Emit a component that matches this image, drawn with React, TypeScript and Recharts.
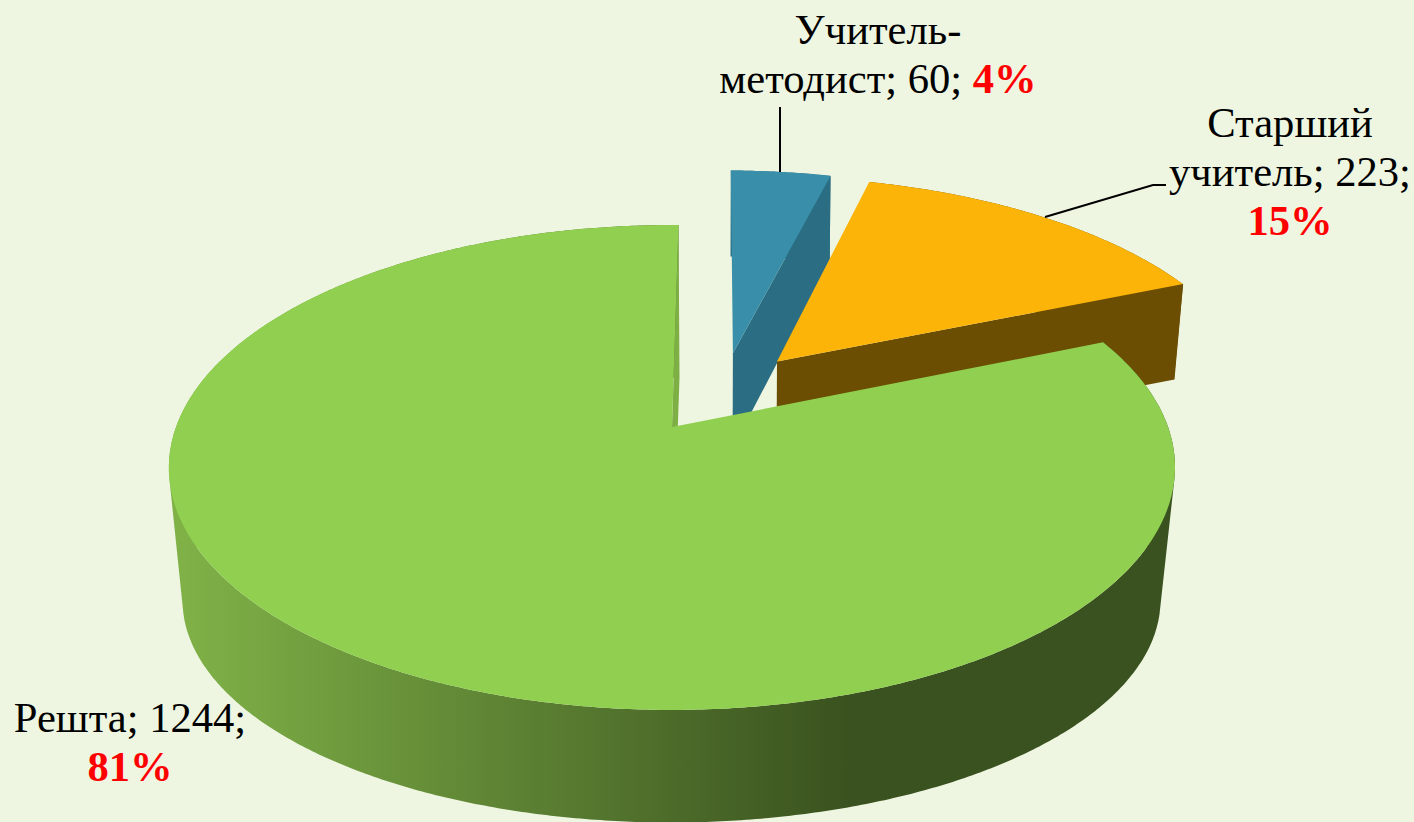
import { Pie, PieChart } from 'recharts';

const categories = ['Учитель-методист', 'Старший учитель', 'Решта'];
const counts = [60, 223, 1244];
const nameLines = [['Учитель-', 'методист'], ['Старший', 'учитель'], ['Решта']];

const pieData = categories.map((name, i) => ({ name, value: counts[i] }));

// perspective of the disc: how much farther points shrink, and how flat it is
const PERSPECTIVE = 0.167;
const FLATTEN = 0.4752;

// offset = explosion of a slice in disc units; floor = where its lower plane lands on screen
const sliceLook: Record<string, any> = {
  'Учитель-методист': {
    top: '#398FA9',
    side: '#2B6E83',
    wall: '#2B6E83',
    offset: [0.121, 0.33],
    floor: { sx: 0.995, sy: 1.05, dy: 98.7, fx: 0, wallFx: 0 },
  },
  'Старший учитель': {
    top: '#FDB408',
    side: '#6C4E03',
    wall: '#6C4E03',
    offset: [0.2135, 0.292],
    floor: { sx: 0.98, sy: 0.99, dy: 94, fx: 1, wallFx: 1.5 },
  },
  Решта: {
    top: '#90CF50',
    side: 'url(#greenSide)',
    wall: '#7DAF45',
    offset: [-0.008, 0],
    floor: { sx: 0.972, sy: 0.917, dy: 136, fx: -0.5, wallFx: 1 },
  },
};

const labelLook = [
  { x: 878, y: 44, lineGap: 49, inlinePercent: true, leader: '780,107 780,172' },
  { x: 1290, y: 137, lineGap: 49, inlinePercent: false, leader: '1045,217 1153,185 1166,185' },
  { x: 130, y: 732, lineGap: 49, inlinePercent: false, leader: '' },
];

const rad = Math.PI / 180;

function SliceShape(props: any) {
  const { cx, cy, outerRadius, startAngle, endAngle, name, payload } = props;
  const look = sliceLook[payload?.name ?? name];
  const [ox, oy] = look.offset;
  const { sx, sy, dy, fx, wallFx } = look.floor;

  const onTop = (u: number, v: number) => {
    const w = 1 + PERSPECTIVE * v;
    return [(outerRadius * u) / w, (outerRadius * FLATTEN * v) / w];
  };
  const topPoint = (u: number, v: number) => {
    const [x, y] = onTop(u, v);
    return [cx + x, cy - y];
  };
  const floorPoint = (u: number, v: number, extraX = fx) => {
    const [x, y] = onTop(u, v);
    return [cx + x * sx + extraX, cy + dy - y * sy];
  };
  const rim = (a: number) => [ox + Math.cos(a * rad), oy + Math.sin(a * rad)];

  const topArc: number[][] = [];
  const floorArc: number[][] = [];
  const dir = endAngle < startAngle ? -1 : 1;
  const steps = Math.ceil(Math.abs(endAngle - startAngle) * 2);
  for (let i = 0; i <= steps; i++) {
    const a = startAngle + (dir * i) / 2;
    const clamped = dir < 0 ? Math.max(a, endAngle) : Math.min(a, endAngle);
    const [u, v] = rim(clamped);
    topArc.push(topPoint(u, v));
    floorArc.push(floorPoint(u, v));
  }

  const toPath = (pts: number[][]) =>
    'M' + pts.map((p) => `${p[0].toFixed(1)},${p[1].toFixed(1)}`).join('L') + 'Z';

  // the side folds over at the silhouette, so every quad gets the same winding
  // or the two halves of the fold would cancel out under the nonzero fill
  let sidePath = '';
  for (let i = 0; i < steps; i++) {
    const quad = [topArc[i], topArc[i + 1], floorArc[i + 1], floorArc[i]];
    let area = 0;
    quad.forEach((p, k) => {
      const q = quad[(k + 1) % 4];
      area += p[0] * q[1] - q[0] * p[1];
    });
    sidePath += toPath(area < 0 ? quad.slice().reverse() : quad);
  }

  const [eu, ev] = rim(endAngle);
  const wall = [
    topPoint(ox, oy),
    topPoint(eu, ev),
    floorPoint(eu, ev, wallFx),
    floorPoint(ox, oy, wallFx),
  ];

  return (
    <g>
      <path d={sidePath} fill={look.side} />
      <path d={toPath(wall)} fill={look.wall} />
      <path d={toPath([topPoint(ox, oy), ...topArc])} fill={look.top} />
    </g>
  );
}

function SliceLabel(props: any) {
  const { index, value, percent } = props;
  const look = labelLook[index];
  const lines = nameLines[index];
  const pct = `${Math.round(percent * 100)}%`;
  const last = lines.length - 1;
  const textLines = lines.map((l, i) => (i === last ? `${l}; ${value};` : l));

  return (
    <g>
      {look.leader && <polyline points={look.leader} fill="none" stroke="#000" strokeWidth={2} />}
      <text
        textAnchor="middle"
        fontFamily="'Liberation Serif', serif"
        fontSize={42.6}
        fill="#000"
      >
        {textLines.map((l, i) => (
          <tspan key={i} x={look.x} y={look.y + i * look.lineGap}>
            {l}
            {i === last && look.inlinePercent && (
              <tspan fill="#FF0000" fontWeight="bold">
                {' ' + pct}
              </tspan>
            )}
          </tspan>
        ))}
        {!look.inlinePercent && (
          <tspan
            x={look.x}
            y={look.y + lines.length * look.lineGap}
            fill="#FF0000"
            fontWeight="bold"
          >
            {pct}
          </tspan>
        )}
      </text>
    </g>
  );
}

export default function App() {
  return (
    <div style={{ position: 'absolute', left: 0, top: 0, width: 1414, height: 822, background: '#EEF6E1', overflow: 'hidden' }}>
      <PieChart width={1414} height={822} margin={{ top: 0, right: 0, bottom: 0, left: 0 }}>
        <defs>
          <linearGradient id="greenSide" gradientUnits="userSpaceOnUse" x1={183} y1={0} x2={850} y2={0}>
            <stop offset="0" stopColor="#7FB147" />
            <stop offset="1" stopColor="#3A521F" />
          </linearGradient>
        </defs>
        <Pie
          data={pieData}
          dataKey="value"
          nameKey="name"
          cx={676}
          cy={427}
          innerRadius={0}
          outerRadius={496}
          startAngle={89.2}
          endAngle={-270.8}
          shape={SliceShape}
          label={SliceLabel}
          labelLine={false}
          isAnimationActive={false}
        />
      </PieChart>
    </div>
  );
}
